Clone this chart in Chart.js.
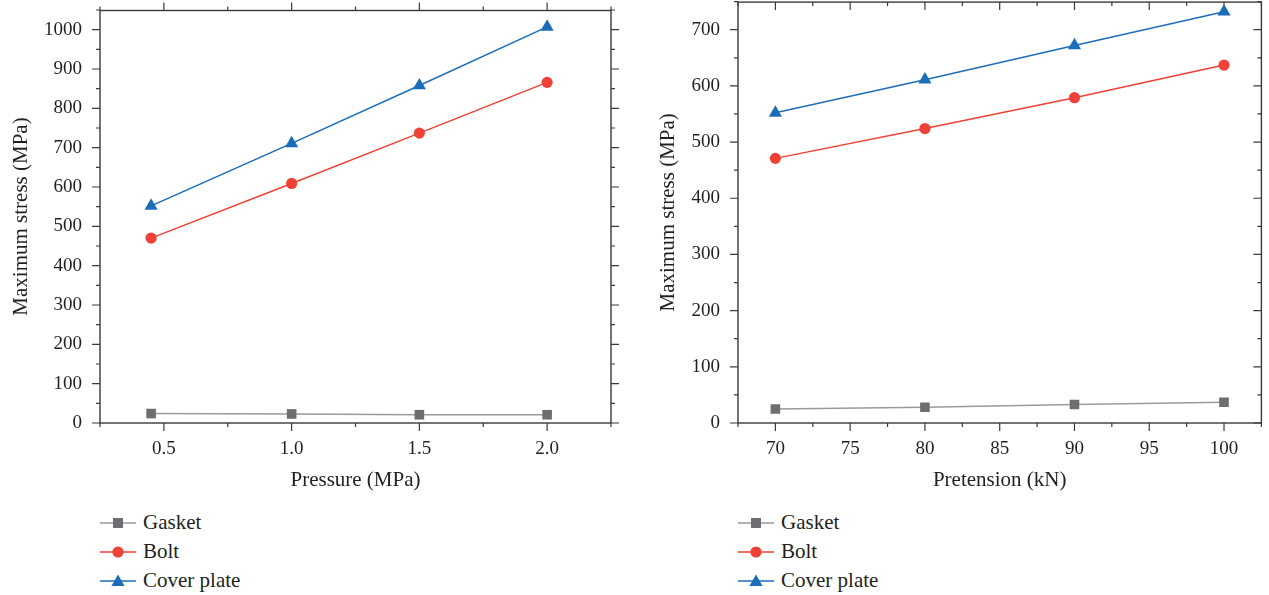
<!DOCTYPE html>
<html>
<head>
<meta charset="utf-8">
<script src="https://cdn.jsdelivr.net/npm/chart.js@4/dist/chart.umd.min.js"></script>
<style>
  body { margin: 0; background: #fff; width: 1269px; height: 595px; position: relative; overflow: hidden; }
  canvas { position: absolute; top: 0; }
  #c1 { left: 0; }
  #c2 { left: 640px; top: -6px; }
  .legend { position: absolute; top: 508px; font-family: "Liberation Serif", serif; font-size: 21px; color: #231f20; }
  .legend div { height: 29px; display: flex; align-items: center; }
  .legend svg { margin-right: 7px; }
</style>
</head>
<body>
<canvas id="c1" width="635" height="500"></canvas>
<canvas id="c2" width="629" height="506"></canvas>
<div class="legend" id="leg1" style="left:100px"></div>
<div class="legend" id="leg2" style="left:738px"></div>
<script>
// left chart: stress vs pressure
const pressure = [0.45, 1.0, 1.5, 2.0];
const gasketP = [24, 23, 21, 21];
const boltP = [470, 609, 737, 866];
const coverP = [552, 711, 858, 1007];

// right chart: stress vs pretension
const pretension = [70, 80, 90, 100];
const gasketT = [25, 28, 33, 37];
const boltT = [471, 524, 579, 637];
const coverT = [552, 611, 672, 732];

const pressureTicks = [0.5, 1.0, 1.5, 2.0];
const pretensionTicks = [70, 75, 80, 85, 90, 95, 100];
const stressTicksP = [0, 100, 200, 300, 400, 500, 600, 700, 800, 900, 1000];
const stressTicksT = [0, 100, 200, 300, 400, 500, 600, 700];

const seriesNames = ['Gasket', 'Bolt', 'Cover plate'];
const lineColors = ['#9a9a9c', '#ef4136', '#1c6db9'];
const markColors = ['#6d6e71', '#ef4136', '#1c6db9'];
const markStyles = ['rect', 'circle', 'triangle'];
const markRadius = [6.8, 5.6, 7.6];

const FONT = '"Liberation Serif", serif';
const TXT = '#231f20';
const AX = '#3a3a3a';

// box around the plot with major/minor tick marks on all four sides
const frameTicks = {
  id: 'frameTicks',
  beforeDatasetsDraw(chart, args, o) {
    const { ctx, chartArea: a, scales: { x, y } } = chart;
    ctx.save();
    ctx.strokeStyle = AX;
    ctx.lineWidth = 1.4;
    ctx.strokeRect(a.left, a.top + 0.5, a.right - a.left, a.bottom - a.top - 0.5);
    ctx.lineWidth = 1.2;
    const each = (scale, minor, major, fn) => {
      const start = Math.ceil(scale.min / minor - 1e-9) * minor;
      for (let v = start; v <= scale.max + 1e-9; v += minor) {
        const isMajor = Math.abs(v / major - Math.round(v / major)) < 1e-6;
        fn(scale.getPixelForValue(v), isMajor ? 8 : 4);
      }
    };
    ctx.beginPath();
    each(x, o.xMinor, o.xMajor, (p, len) => {
      ctx.moveTo(p, a.bottom); ctx.lineTo(p, a.bottom + len);
      const t = a.top + 0.5;
      ctx.moveTo(p, t); ctx.lineTo(p, o.topIn ? t + len : t - len);
    });
    each(y, o.yMinor, o.yMajor, (p, len) => {
      ctx.moveTo(a.left, p); ctx.lineTo(a.left - len, p);
      ctx.moveTo(a.right, p); ctx.lineTo(o.rightIn ? a.right - len : a.right + len, p);
    });
    ctx.stroke();
    ctx.restore();
  }
};

function makeChart(id, xs, ys, cfg) {
  const datasets = ys.map((vals, i) => ({
    label: seriesNames[i],
    data: xs.map((xv, k) => ({ x: xv, y: vals[k] })),
    borderColor: lineColors[i],
    borderWidth: 1.5,
    backgroundColor: markColors[i],
    pointBackgroundColor: markColors[i],
    pointBorderColor: markColors[i],
    pointBorderWidth: 0,
    pointStyle: markStyles[i],
    pointRadius: markRadius[i],
    tension: 0
  }));
  return new Chart(document.getElementById(id), {
    type: 'line',
    data: { datasets },
    plugins: [frameTicks],
    options: {
      responsive: false,
      animation: false,
      devicePixelRatio: 1,
      layout: { padding: cfg.padding },
      plugins: {
        legend: { display: false },
        tooltip: { enabled: false },
        frameTicks: cfg.frame
      },
      scales: {
        x: {
          type: 'linear',
          min: cfg.xMin, max: cfg.xMax,
          grid: { display: false, drawTicks: false },
          border: { display: false },
          afterBuildTicks: s => { s.ticks = cfg.xTicks.map(v => ({ value: v })); },
          afterFit: s => { s.height = 77; s.paddingLeft = 0; s.paddingRight = 0; },
          ticks: {
            padding: 15,
            color: TXT,
            font: { family: FONT, size: 19 },
            callback: cfg.xFmt
          },
          title: {
            display: true,
            text: cfg.xTitle,
            color: TXT,
            font: { family: FONT, size: 21 },
            padding: { top: 0, bottom: 7 }
          }
        },
        y: {
          type: 'linear',
          min: 0, max: cfg.yMax,
          grid: { display: false, drawTicks: false },
          border: { display: false },
          afterBuildTicks: s => { s.ticks = cfg.yTicks.map(v => ({ value: v })); },
          afterFit: s => { s.width = cfg.yWidth; s.paddingTop = 0; s.paddingBottom = 0; },
          ticks: {
            padding: 18,
            color: TXT,
            font: { family: FONT, size: 19 },
            callback: v => String(v)
          },
          title: {
            display: true,
            text: 'Maximum stress (MPa)',
            color: TXT,
            font: { family: FONT, size: 21 },
            padding: { top: cfg.yTitlePad, bottom: 0 }
          }
        }
      }
    }
  });
}

makeChart('c1', pressure, [gasketP, boltP, coverP], {
  padding: { top: 10, right: 24, left: 0, bottom: 0 },
  xMin: 0.25, xMax: 2.25, xTicks: pressureTicks, xFmt: v => Number(v).toFixed(1),
  xTitle: 'Pressure (MPa)',
  yMax: 1050, yTicks: stressTicksP, yWidth: 100, yTitlePad: 9,
  frame: { xMinor: 0.25, xMajor: 0.5, yMinor: 50, yMajor: 100, topIn: false, rightIn: false }
});

makeChart('c2', pretension, [gasketT, boltT, coverT], {
  padding: { top: 0, right: 7, left: 0, bottom: 0 },
  xMin: 67.5, xMax: 102.5, xTicks: pretensionTicks, xFmt: v => String(v),
  xTitle: 'Pretension (kN)',
  yMax: 750, yTicks: stressTicksT, yWidth: 98, yTitlePad: 16,
  frame: { xMinor: 2.5, xMajor: 5, yMinor: 50, yMajor: 100, topIn: true, rightIn: true }
});

// legends below each chart
function markerSvg(i) {
  const c = markColors[i];
  let m;
  if (markStyles[i] === 'rect') m = `<rect x="13" y="2" width="10" height="10" fill="${c}"/>`;
  else if (markStyles[i] === 'circle') m = `<circle cx="18" cy="7" r="5.6" fill="${c}"/>`;
  else m = `<polygon points="18,0.5 24.6,12 11.4,12" fill="${c}"/>`;
  return `<svg width="36" height="14"><line x1="0" y1="7" x2="36" y2="7" stroke="${lineColors[i]}" stroke-width="1.5"/>${m}</svg>`;
}
['leg1', 'leg2'].forEach(id => {
  document.getElementById(id).innerHTML = seriesNames
    .map((n, i) => `<div>${markerSvg(i)}<span>${n}</span></div>`).join('');
});
</script>
</body>
</html>
